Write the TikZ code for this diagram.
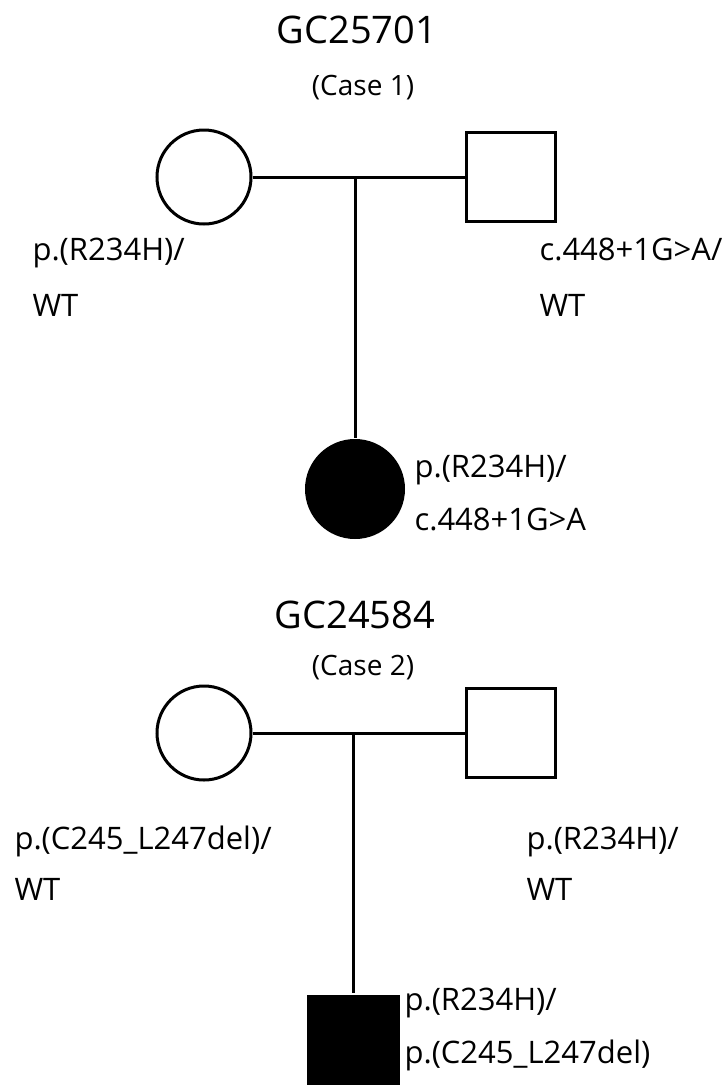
\documentclass[tikz,border=0pt]{standalone}
\usepackage{fontspec}
\setmainfont{Open Sans}
\usepackage{tikz}

\begin{document}
\begin{tikzpicture}[x=1pt, y=-1pt, line width=3pt,
    female/.style={draw, circle, minimum size=94pt, inner sep=0pt},
    male/.style={draw, rectangle, minimum size=89pt, inner sep=0pt},
    affectedfemale/.style={fill=black, circle, minimum size=100pt, inner sep=0pt},
    affectedmale/.style={fill=black, rectangle, minimum size=93pt, inner sep=0pt},
    genotype/.style={anchor=base west, inner sep=0pt, font=\fontsize{31}{37}\selectfont},
    famid/.style={anchor=base, inner sep=0pt, font=\fontsize{38}{45}\selectfont},
    casenr/.style={anchor=base, inner sep=0pt, font=\fontsize{28}{33}\selectfont}]
  \clip (0,0) rectangle (724,1085);

  \node[famid] (fam1) at (357,43) {GC25701};
  \node[casenr] (case1) at (363,95) {(Case 1)};
  \node[female] (mom1) at (204,177) {};
  \node[male] (dad1) at (511,177) {};
  \node[affectedfemale] (kid1) at (355,489) {};
  \coordinate (mid1) at (mom1.east -| kid1);
  \draw (mom1.east) -- (dad1.west);
  \draw (mid1) -- (kid1.north);
  \node[genotype] (mom1a) at (31,260) {p.(R234H)/};
  \node[genotype] (mom1b) at (31,316) {WT};
  \node[genotype] (dad1a) at (538,260) {c.448+1G>A/};
  \node[genotype] (dad1b) at (538,316) {WT};
  \node[genotype] (kid1a) at (413,477) {p.(R234H)/};
  \node[genotype] (kid1b) at (413,530) {c.448+1G>A};

  \node[famid] (fam2) at (355,628) {GC24584};
  \node[casenr] (case2) at (363,675) {(Case 2)};
  \node[female] (mom2) at (204,733) {};
  \node[male] (dad2) at (511,733) {};
  \node[affectedmale] (kid2) at (353,1041) {};
  \coordinate (mid2) at (mom2.east -| kid2);
  \draw (mom2.east) -- (dad2.west);
  \draw (mid2) -- (kid2.north);
  \node[genotype] (mom2a) at (13,849) {p.(C245\_L247del)/};
  \node[genotype] (mom2b) at (13,900) {WT};
  \node[genotype] (dad2a) at (525,849) {p.(R234H)/};
  \node[genotype] (dad2b) at (525,900) {WT};
  \node[genotype] (kid2a) at (403,1010) {p.(R234H)/};
  \node[genotype] (kid2b) at (403,1063) {p.(C245\_L247del)};
\end{tikzpicture}
\end{document}
